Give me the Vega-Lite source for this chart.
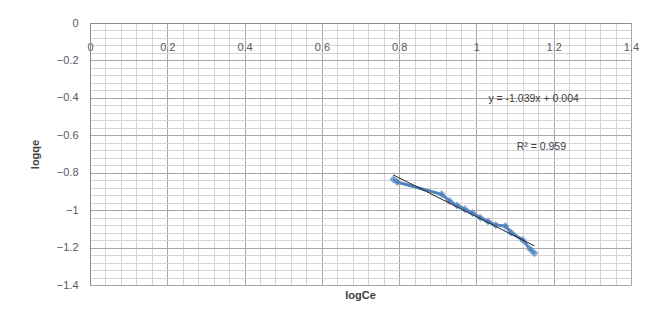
{
  "$schema": "https://vega.github.io/schema/vega-lite/v6.json",
  "width": 541,
  "height": 262,
  "autosize": {"type": "none"},
  "padding": {"left": 90, "top": 23, "right": 17, "bottom": 35},
  "background": "white",
  "config": {"view": {"stroke": null}, "font": "Liberation Sans"},
  "datasets": {
    "points": [
      {"logCe": 0.785, "logqe": -0.835},
      {"logCe": 0.795, "logqe": -0.85},
      {"logCe": 0.91, "logqe": -0.915},
      {"logCe": 0.93, "logqe": -0.95},
      {"logCe": 0.95, "logqe": -0.975},
      {"logCe": 0.97, "logqe": -0.995},
      {"logCe": 0.99, "logqe": -1.015},
      {"logCe": 1.01, "logqe": -1.04},
      {"logCe": 1.03, "logqe": -1.06},
      {"logCe": 1.05, "logqe": -1.08},
      {"logCe": 1.075, "logqe": -1.085},
      {"logCe": 1.09, "logqe": -1.12},
      {"logCe": 1.12, "logqe": -1.16},
      {"logCe": 1.14, "logqe": -1.21},
      {"logCe": 1.15, "logqe": -1.23}
    ],
    "trend": [
      {"logCe": 0.785, "logqe": -0.812},
      {"logCe": 1.15, "logqe": -1.191}
    ],
    "labels": [
      {"logCe": 1.148, "logqe": -0.406, "text": "y = -1.039x + 0.004"},
      {"logCe": 1.168, "logqe": -0.66, "text": "R² = 0.959"}
    ]
  },
  "layer": [
    {
      "data": {"name": "points"},
      "mark": {"type": "point", "opacity": 0},
      "encoding": {
        "x": {"field": "logCe", "type": "quantitative", "scale": {"domain": [0, 1.4], "nice": false, "zero": false},
          "axis": {"orient": "bottom", "values": [0,0.04,0.08,0.12,0.16,0.2,0.24,0.28,0.32,0.36,0.4,0.44,0.48,0.52,0.56,0.6,0.64,0.68,0.72,0.76,0.8,0.84,0.88,0.92,0.96,1,1.04,1.08,1.12,1.16,1.2,1.24,1.28,1.32,1.36,1.4],
            "grid": true, "gridColor": "#d4d4d4", "gridWidth": 1, "labels": false, "ticks": false, "domain": false, "title": null}},
        "y": {"field": "logqe", "type": "quantitative", "scale": {"domain": [-1.4, 0], "nice": false, "zero": false},
          "axis": {"orient": "right", "values": [0,-0.04,-0.08,-0.12,-0.16,-0.2,-0.24,-0.28,-0.32,-0.36,-0.4,-0.44,-0.48,-0.52,-0.56,-0.6,-0.64,-0.68,-0.72,-0.76,-0.8,-0.84,-0.88,-0.92,-0.96,-1,-1.04,-1.08,-1.12,-1.16,-1.2,-1.24,-1.28,-1.32,-1.36,-1.4],
            "grid": true, "gridColor": "#d4d4d4", "gridWidth": 1, "labels": false, "ticks": false, "domain": false, "title": null}}
      }
    },
    {
      "data": {"name": "points"},
      "mark": {"type": "point", "opacity": 0},
      "encoding": {
        "x": {"field": "logCe", "type": "quantitative",
          "axis": {"orient": "top", "values": [0,0.2,0.4,0.6,0.8,1,1.2,1.4], "format": "~g", "grid": true, "gridColor": "#a8a8a8", "gridWidth": 1,
            "ticks": false, "domain": true, "domainColor": "#8c8c8c", "labelFlush": false, "labelOverlap": false,
            "labelBaseline": "middle", "labelPadding": -24, "labelFontSize": 11, "labelColor": "#595959",
            "title": "logCe", "titleX": 270, "titleY": 272, "titleBaseline": "middle", "titleAlign": "center", "titleFontSize": 11, "titleFontWeight": "bold", "titleColor": "#404040"}},
        "y": {"field": "logqe", "type": "quantitative",
          "axis": {"orient": "left", "values": [0,-0.2,-0.4,-0.6,-0.8,-1,-1.2,-1.4], "format": "~g", "grid": true, "gridColor": "#a8a8a8", "gridWidth": 1,
            "ticks": false, "domain": true, "domainColor": "#8c8c8c", "labelFlush": false, "labelOverlap": false,
            "labelPadding": 12, "labelFontSize": 11, "labelColor": "#595959",
            "title": "logqe", "titleAngle": -90, "titleX": -55, "titleY": 131, "titleBaseline": "middle", "titleAlign": "center", "titleFontSize": 11, "titleFontWeight": "bold", "titleColor": "#404040"}}
      }
    },
    {
      "data": {"name": "points"},
      "mark": {"type": "line", "color": "#4f81bd", "strokeWidth": 3},
      "encoding": {
        "x": {"field": "logCe", "type": "quantitative", "axis": null},
        "y": {"field": "logqe", "type": "quantitative", "axis": null}
      }
    },
    {
      "data": {"name": "points"},
      "mark": {"type": "point", "shape": "diamond", "filled": true, "color": "#4f81bd", "size": 55, "stroke": "#7fa3d4", "strokeWidth": 1},
      "encoding": {
        "x": {"field": "logCe", "type": "quantitative", "axis": null},
        "y": {"field": "logqe", "type": "quantitative", "axis": null}
      }
    },
    {
      "data": {"name": "trend"},
      "mark": {"type": "line", "color": "#222222", "strokeWidth": 1},
      "encoding": {
        "x": {"field": "logCe", "type": "quantitative", "axis": null},
        "y": {"field": "logqe", "type": "quantitative", "axis": null}
      }
    },
    {
      "data": {"name": "labels"},
      "mark": {"type": "text", "fontSize": 10.5, "color": "#404040", "align": "center", "baseline": "middle"},
      "encoding": {
        "x": {"field": "logCe", "type": "quantitative", "axis": null},
        "y": {"field": "logqe", "type": "quantitative", "axis": null},
        "text": {"field": "text", "type": "nominal"}
      }
    }
  ],
  "resolve": {"axis": {"x": "independent", "y": "independent"}}
}
